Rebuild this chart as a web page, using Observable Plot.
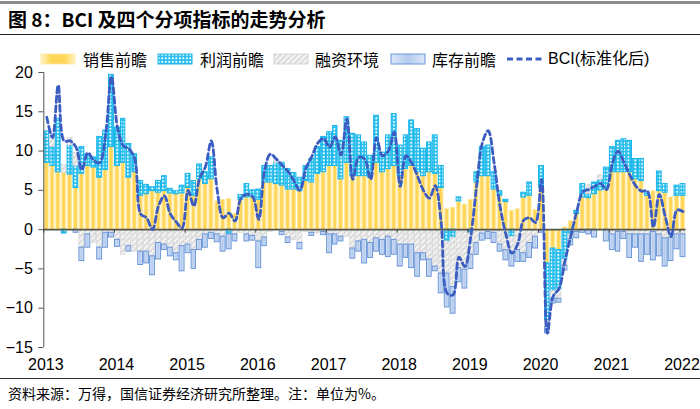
<!DOCTYPE html>
<html><head><meta charset="utf-8">
<script src="https://cdn.jsdelivr.net/npm/d3@7"></script>
<script src="https://cdn.jsdelivr.net/npm/@observablehq/plot@0.6"></script>
<style>
body{margin:0;background:#fff;}
#wrap{position:relative;width:700px;height:409px;overflow:hidden;font-family:"Noto Sans CJK SC","Noto Sans",sans-serif;color:#000;}
.abs{position:absolute;white-space:nowrap;}
</style></head><body><div id="wrap"></div>
<script>
// ---------- data ----------
const seriesNames = ["销售前瞻", "利润前瞻", "融资环境", "库存前瞻"];
const lineName = "BCI(标准化后)";
const titleText = "图 8：BCI 及四个分项指标的走势分析";
const sourceText = "资料来源：万得，国信证券经济研究所整理。注：单位为%。";
const yTicks = [-15, -10, -5, 0, 5, 10, 15, 20];
const startMonth = new Date(Date.UTC(2013, 0, 1));
const endMonth = new Date(Date.UTC(2022, 1, 1)); // exclusive
// monthly values 2013-01 … 2022-01
const sales = [
  8.5, 8.1, 7.3, 7.2, 7.0, 5.3, 7.1, 8.1, 7.9, 6.6, 7.6, 10.5,
  8.1, 8.5, 6.6, 7.3, 4.3, 4.5, 4.9, 4.7, 4.9, 4.6, 4.5, 4.6,
  5.3, 4.3, 6.4, 5.8, 6.4, 3.6, 3.8, 3.9, 2.0, 3.8, 4.1, 4.1,
  3.8, 6.0, 6.0, 5.8, 5.6, 5.1, 5.1, 4.9, 6.2, 6.0, 7.1, 7.3,
  8.1, 8.1, 6.4, 8.5, 6.8, 6.8, 6.8, 6.6, 8.5, 7.3, 7.7, 8.1,
  6.8, 7.7, 8.1, 7.3, 6.8, 7.3, 7.1, 5.3, 2.6, 2.8, 3.6, 3.2,
  3.8, 6.0, 6.8, 6.8, 5.1, 4.3, 3.5, 2.4, 2.6, 4.1, 4.3, 2.5,
  5.3, -4.3, -2.4, -2.6, 0.3, 1.1, 2.0, 4.1, 4.0, 4.5, 5.0, 5.1,
  7.3, 7.3, 7.3, 7.3, 6.4, 6.2, 4.3, 4.9, 4.9, 4.7, 4.1, 4.3,
  4.3
];
const profit = [
  4.0, 2.4, 6.8, -0.5, 3.7, 2.8, 3.4, 1.5, 1.3, 5.2, 5.0, 9.2,
  4.9, 5.6, 4.3, 2.3, 1.9, 1.2, 0.5, 1.5, 1.9, 0.6, 0.4, 1.0,
  1.8, 1.9, 1.9, 1.5, 2.8, 0, 0, -0.6, 0, 0.6, 1.7, 0.9,
  1.3, 2.1, 2.1, 2.7, 2.9, 2.6, 2.1, 1.7, 1.9, 3.0, 3.4, 4.5,
  4.3, 5.1, 4.9, 5.8, 5.4, 5.2, 4.3, 2.8, 6.0, 2.5, 4.3, 6.6,
  3.9, 4.3, 5.8, 5.5, 3.5, 3.8, 4.9, 2.8, -1.5, -1.0, 0.5, 0,
  -0.4, 1.3, 3.7, 3.9, 2.2, 0.6, 0.3, -0.9, 0, 0.6, 1.7, 0,
  2.8, -7.3, -5.4, -5.0, -3.8, -0.6, 0.4, 1.7, 0.5, 1.5, 1.3, 2.8,
  3.2, 4.0, 4.2, 4.0, 2.6, 2.8, 0.3, 0, 2.5, 1.1, 0, 1.3,
  1.5
];
const financing = [
  0, 1.3, 0, 1.0, 1.0, 1.7, -2.3, -0.6, -1.7, -2.3, -0.4, -0.4,
  -1.3, -3.2, -2.1, -2.8, -2.8, -2.8, -3.4, -1.7, -1.9, -2.3, -3.0, -2.1,
  -1.9, -2.6, -1.3, -0.6, -0.4, -0.6, -0.9, 0, -0.6, -0.4, -0.6, -0.8,
  -1.5, -1.0, -0.3, 0.5, -0.3, -1.0, -1.3, -1.7, -0.3, -0.4, -0.5, -0.3,
  -0.6, -0.6, -0.9, -0.9, -2.4, -1.5, -1.3, -1.7, -1.1, -1.3, -0.9, -1.3,
  -1.9, -1.9, -1.9, -3.0, -3.0, -3.8, -4.7, -5.6, -4.1, -6.3, -4.9, -5.1,
  -2.8, -1.7, -0.5, -0.3, -0.4, -1.9, -2.6, -2.1, -2.6, -3.0, -1.7, -0.9,
  -0.2, -0.8, -1.0, -1.2, -0.8, -0.6, -0.3, 0, 1.2, 0, 0.6, 0,
  -0.6, -0.3, -0.3, -0.6, -0.6, -0.6, -0.6, -0.3, -0.6, -1.1, -1.0, -0.6,
  -0.6
];
const inventory = [
  0, 0, 0, 0, 0, -0.4, -1.7, -1.7, 0, -1.5, -1.9, -0.6,
  -0.9, 0, -0.7, 0, -1.7, -1.5, -2.4, -2.1, -0.7, -1.1, -0.9, -3.2,
  -1.1, -2.4, -1.3, -1.7, -0.8, -1.0, -1.9, -1.9, -0.9, 0, -0.9, -0.6,
  -3.4, -1.1, 0, 0, -0.4, -0.7, 0, -0.8, 0, -0.4, 0, -0.4,
  -2.4, -1.3, -0.6, 0, -1.3, -1.3, -3.0, -1.9, -1.7, -1.9, -2.6, -1.9,
  -2.8, -1.7, -3.0, -3.0, -0.9, -2.2, -0.6, -2.5, -4.3, -3.4, -1.8, -2.4,
  -1.8, -1.5, -0.9, -0.9, -1.3, -0.9, -1.3, -1.7, -1.5, -1.1, -1.9, -1.5,
  -0.2, -0.8, -0.6, -0.5, -0.6, -0.8, -0.8, -0.4, -0.6, -1.0, 0, -1.5,
  -2.0, -2.5, -0.9, -3.0, -1.7, -3.5, -2.6, -3.6, -2.8, -3.6, -3.0, -1.9,
  -2.9
];
const bci = [
  14.3, 11.7, 18.4, 11.3, 11.3, 10.5, 7.6, 9.8, 8.8, 8.5, 12.0, 19.5,
  13.0, 10.7, 10.3, 9.0, 2.0, 1.5, 0.0, 3.0, 4.3, 2.0, 1.0, 0.2,
  5.0, 3.0, 6.5, 8.0, 11.3, 5.0, 1.5, 2.1, 1.1, 4.0, 4.5, 4.2,
  1.3, 7.5, 9.6, 9.0, 8.2, 7.4, 6.2, 5.0, 7.8, 9.3, 11.0, 11.6,
  10.5, 11.8, 9.5, 14.1, 6.4, 9.2, 9.0, 6.4, 11.7, 9.4, 10.0, 12.4,
  5.5, 9.4, 8.5, 6.8, 5.0, 4.0, 5.6, 0.8, -8.1, -8.3, -3.5, -4.7,
  -0.8, 5.5, 11.0, 12.6, 8.5, 3.0, -0.6, -3.0, -1.8, 1.2, 1.5, 0.9,
  6.4, -13.2, -8.5, -7.5, -4.0, -0.8, 2.3, 4.8, 5.1, 5.5, 5.9, 5.1,
  8.4, 10.0, 8.6, 7.0, 5.6, 4.9, 4.9, 0.3, 4.5, 1.7, -0.9, 2.5,
  2.3
];

// ---------- build tables ----------
const months = d3.utcMonths(startMonth, endMonth);
const seriesValues = [sales, profit, financing, inventory];
const rows = [];
months.forEach((m, i) => {
  seriesNames.forEach((s, k) => {
    rows.push({x1: m, x2: d3.utcMonth.offset(m, 1), series: s, value: seriesValues[k][i]});
  });
});
const linePts = months.map((m, i) => ({date: new Date((+m + +d3.utcMonth.offset(m, 1)) / 2), value: bci[i]}));
const years = d3.utcYears(startMonth, endMonth);

// ---------- styles ----------
const fills = ["url(#gY)", "url(#pC)", "url(#pG)", "url(#gB)"];
const strokes = {"url(#gY)": ["#ffe9a0", 0.4], "url(#pC)": ["#16b5ea", 1], "url(#pG)": ["#cfcfcf", 0.6], "url(#gB)": ["#6b97d8", 1]};
const lineColor = "#3b5cc0";

const wrap = document.getElementById("wrap");
const NS = "http://www.w3.org/2000/svg";
// shared defs
const defsSvg = document.createElementNS(NS, "svg");
defsSvg.setAttribute("width", 0); defsSvg.setAttribute("height", 0);
defsSvg.style.position = "absolute";
defsSvg.innerHTML = `<defs>
<linearGradient id="gY" x1="0" x2="1" y1="0" y2="0">
 <stop offset="0" stop-color="#fff3c2"/><stop offset="0.3" stop-color="#ffd659"/>
 <stop offset="0.7" stop-color="#ffd659"/><stop offset="1" stop-color="#fff3c2"/></linearGradient>
<pattern id="pC" patternUnits="userSpaceOnUse" width="3.5" height="3.5">
 <rect width="3.5" height="3.5" fill="#22bdee"/><rect x="0.9" y="0.9" width="1.9" height="1.9" fill="#ffffff"/></pattern>
<pattern id="pG" patternUnits="userSpaceOnUse" width="4" height="4" patternTransform="rotate(45)">
 <rect width="4" height="4" fill="#dcdcdc"/><rect width="1.4" height="4" fill="#ffffff"/></pattern>
<linearGradient id="gB" x1="0" x2="1" y1="0" y2="0">
 <stop offset="0" stop-color="#dce7f8"/><stop offset="0.5" stop-color="#b3caee"/><stop offset="1" stop-color="#dce7f8"/></linearGradient>
</defs>`;
wrap.appendChild(defsSvg);

function addDiv(css, text) {
  const d = document.createElement("div");
  d.className = "abs"; d.style.cssText = css; if (text != null) d.textContent = text;
  wrap.appendChild(d); return d;
}
// header
addDiv("left:0;top:1px;width:700px;height:3px;background:#8c8c8c;");
addDiv("left:8px;top:6px;font-size:19px;font-weight:700;line-height:26px;", titleText);
addDiv("left:0;top:34px;width:700px;height:1px;background:#222;");

// legend
const swX = [40, 157, 273, 390];
const txX = [83, 200, 315, 432];
seriesNames.forEach((s, k) => {
  const sv = document.createElementNS(NS, "svg");
  sv.setAttribute("width", 36); sv.setAttribute("height", 13);
  sv.style.cssText = `position:absolute;left:${swX[k]}px;top:53px;`;
  const r = document.createElementNS(NS, "rect");
  r.setAttribute("x", 1); r.setAttribute("y", 1); r.setAttribute("width", 34); r.setAttribute("height", 10);
  r.setAttribute("fill", fills[k]);
  r.setAttribute("stroke", strokes[fills[k]][0]); r.setAttribute("stroke-width", Math.max(0.8, strokes[fills[k]][1]));
  sv.appendChild(r); wrap.appendChild(sv);
  addDiv(`left:${txX[k]}px;top:48px;font-size:16px;line-height:22px;`, s);
});
{
  const sv = document.createElementNS(NS, "svg");
  sv.setAttribute("width", 40); sv.setAttribute("height", 13);
  sv.style.cssText = "position:absolute;left:506px;top:53px;";
  sv.innerHTML = `<line x1="1" x2="37" y1="6" y2="6" stroke="${lineColor}" stroke-width="2.8" stroke-dasharray="6,3.5"/>`;
  wrap.appendChild(sv);
  addDiv("left:548px;top:48px;font-size:16px;line-height:22px;font-family:'Liberation Sans','Noto Sans CJK SC',sans-serif;", lineName);
}

// ---------- chart ----------
const chart = Plot.plot({
  width: 700,
  height: 312,
  marginLeft: 43.3,
  marginRight: 14.5,
  marginTop: 8,
  marginBottom: 29,
  style: {fontFamily: "'Liberation Sans', Arial, sans-serif", fontSize: "16px", color: "#000", background: "transparent"},
  x: {type: "utc", domain: [startMonth, endMonth]},
  y: {domain: [-15, 20]},
  color: {type: "ordinal", domain: seriesNames, range: fills},
  marks: [
    Plot.rectY(rows, Plot.stackY({x1: "x1", x2: "x2", y: "value", fill: "series", insetLeft: 0.55, insetRight: 0.55})),
    Plot.ruleY([0], {stroke: "#55554a", strokeWidth: 1.6}),
    Plot.ruleX(years, {x: d => d, y1: 0, y2: -0.45, stroke: "#444", strokeWidth: 1}),
    Plot.ruleX([startMonth], {y1: -15, y2: 20, stroke: "#555", strokeWidth: 1}),
    Plot.axisY({ticks: yTicks, label: null, tickSize: 5, tickPadding: 6, fontSize: 16, tickFormat: d => d < 0 ? "−" + Math.abs(d) : String(d), stroke: "#555"}),
    Plot.axisX({ticks: years, label: null, tickFormat: d3.utcFormat("%Y"), tickSize: 0, tickPadding: 11, fontSize: 16, dx: 2}),
    Plot.line(linePts, {x: "date", y: "value", stroke: lineColor, strokeWidth: 2.8, strokeDasharray: "6,3.5", curve: "catmull-rom"})
  ]
});
chart.style.position = "absolute";
chart.style.left = "0px";
chart.style.top = "64px";
chart.querySelectorAll("rect").forEach(r => {
  const f = r.getAttribute("fill");
  if (strokes[f]) { r.setAttribute("stroke", strokes[f][0]); r.setAttribute("stroke-width", strokes[f][1]); }
});
wrap.appendChild(chart);

// footer
addDiv("left:0;top:378px;width:700px;height:1px;background:#333;");
addDiv("left:8px;top:383px;font-size:14px;line-height:20px;", sourceText);
</script></body></html>
